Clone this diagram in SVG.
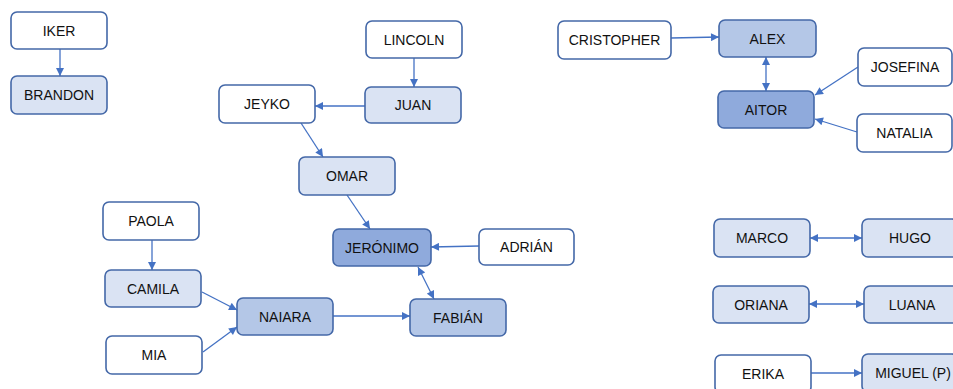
<svg xmlns="http://www.w3.org/2000/svg" width="953" height="389" viewBox="0 0 953 389">
<style>
rect{stroke:#4468a8;stroke-width:1.6}
.w{fill:#ffffff}.l{fill:#dae3f3}.m{fill:#b4c7e7}.d{fill:#8faadc}
text{font-family:"Liberation Sans",Arial,sans-serif;font-size:14px;fill:#111111;text-anchor:middle;dominant-baseline:central}
.c path{stroke:#4472c4;stroke-width:1.3;fill:none;marker-end:url(#ah)}
.c path.b{marker-start:url(#ah)}
</style>
<defs>
<marker id="ah" viewBox="0 0 10 10" refX="10" refY="5" markerWidth="9" markerHeight="8" markerUnits="userSpaceOnUse" orient="auto-start-reverse">
<path d="M0,0 L10,5 L0,10 z" fill="#4472c4"/>
</marker>
</defs>
<rect x="0" y="0" width="953" height="389" fill="#ffffff" style="stroke:none"/>
<g class="c" id="connectors">
<path d="M60 49 L60 76"/>
<path d="M414 58 L414 87"/>
<path d="M365 106 L315 106"/>
<path d="M301 123 L323 157"/>
<path d="M347 195 L370 229"/>
<path d="M479 246 L431 247"/>
<path class="b" d="M418 267 L434 299"/>
<path d="M333 316 L410 316"/>
<path d="M152 240 L152 270"/>
<path d="M202 292 L237 310"/>
<path d="M203 352 L237 327"/>
<path d="M671 38 L719 37"/>
<path class="b" d="M766 57 L766 91"/>
<path d="M858 67 L815 95"/>
<path d="M857 132 L815 119"/>
<path class="b" d="M810 238 L862 238"/>
<path class="b" d="M809 304 L864 304"/>
<path d="M811 373 L862 373"/>
</g>
<g id="iker"><rect class="w" x="11" y="12" width="96" height="37" rx="6"/><text x="59" y="30.5">IKER</text></g>
<g id="brandon"><rect class="l" x="11" y="76" width="96" height="38" rx="6"/><text x="59" y="95">BRANDON</text></g>
<g id="lincoln"><rect class="w" x="366" y="21" width="96" height="37" rx="6"/><text x="414" y="39.5">LINCOLN</text></g>
<g id="juan"><rect class="l" x="365" y="87" width="96" height="36" rx="6"/><text x="413" y="105">JUAN</text></g>
<g id="jeyko"><rect class="w" x="219" y="85" width="96" height="38" rx="6"/><text x="267" y="104">JEYKO</text></g>
<g id="omar"><rect class="l" x="299" y="157" width="96" height="38" rx="6"/><text x="347" y="176">OMAR</text></g>
<g id="cristopher"><rect class="w" x="558" y="21" width="113" height="38" rx="6"/><text x="614.5" y="40">CRISTOPHER</text></g>
<g id="alex"><rect class="m" x="719" y="20" width="97" height="37" rx="6"/><text x="767.5" y="38.5">ALEX</text></g>
<g id="josefina"><rect class="w" x="858" y="48" width="94" height="38" rx="6"/><text x="905" y="67">JOSEFINA</text></g>
<g id="aitor"><rect class="d" x="718" y="91" width="96" height="37" rx="6"/><text x="766" y="109.5">AITOR</text></g>
<g id="natalia"><rect class="w" x="857" y="114" width="95" height="38" rx="6"/><text x="904.5" y="133">NATALIA</text></g>
<g id="paola"><rect class="w" x="103" y="202" width="96" height="38" rx="6"/><text x="151" y="221">PAOLA</text></g>
<g id="camila"><rect class="l" x="105" y="270" width="96" height="37" rx="6"/><text x="153" y="288.5">CAMILA</text></g>
<g id="mia"><rect class="w" x="106" y="336" width="96" height="38" rx="6"/><text x="154" y="355">MIA</text></g>
<g id="naiara"><rect class="m" x="237" y="298" width="96" height="37" rx="6"/><text x="285" y="316.5">NAIARA</text></g>
<g id="jeronimo"><rect class="d" x="333" y="229" width="98" height="37" rx="6"/><text x="382" y="247.5">JERÓNIMO</text></g>
<g id="adrian"><rect class="w" x="479" y="229" width="95" height="36" rx="6"/><text x="526.5" y="247">ADRIÁN</text></g>
<g id="fabian"><rect class="m" x="410" y="299" width="96" height="37" rx="6"/><text x="458" y="317.5">FABIÁN</text></g>
<g id="marco"><rect class="l" x="714" y="219" width="96" height="38" rx="6"/><text x="762" y="238">MARCO</text></g>
<g id="hugo"><rect class="l" x="862" y="219" width="96" height="38" rx="6"/><text x="910" y="238">HUGO</text></g>
<g id="oriana"><rect class="l" x="713" y="286" width="96" height="37" rx="6"/><text x="761" y="304.5">ORIANA</text></g>
<g id="luana"><rect class="l" x="864" y="286" width="96" height="37" rx="6"/><text x="912" y="304.5">LUANA</text></g>
<g id="erika"><rect class="w" x="715" y="355" width="96" height="38" rx="6"/><text x="763" y="374">ERIKA</text></g>
<g id="miguel"><rect class="l" x="862" y="354" width="96" height="38" rx="6"/><text x="913" y="373">MIGUEL (P)</text></g>
</svg>
